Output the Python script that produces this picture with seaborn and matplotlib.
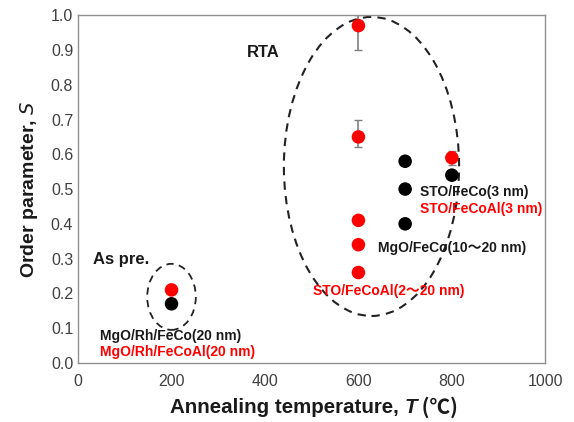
import matplotlib
matplotlib.use("Agg")
import matplotlib.pyplot as plt
import seaborn as sns
import pandas as pd
from matplotlib.patches import Ellipse
from matplotlib.ticker import MultipleLocator
from matplotlib.offsetbox import TextArea, HPacker, AnchoredOffsetbox

sns.set_style("white")
FAM = ['Liberation Sans', 'Noto Sans CJK JP', 'DejaVu Sans']
plt.rcParams['font.family'] = FAM

# data
red_T = [200, 600, 600, 600, 600, 600, 800]
red_S = [0.21, 0.97, 0.65, 0.41, 0.34, 0.26, 0.59]
red_err_lo = [0, 0.07, 0.03, 0, 0, 0, 0.02]
red_err_hi = [0, 0.03, 0.05, 0, 0, 0, 0.02]
black_T = [200, 700, 700, 700, 800]
black_S = [0.17, 0.58, 0.50, 0.40, 0.54]
x_ticks = [0, 200, 400, 600, 800, 1000]
y_ticks = [0.0, 0.1, 0.2, 0.3, 0.4, 0.5, 0.6, 0.7, 0.8, 0.9, 1.0]

df = pd.DataFrame({
    "T": red_T + black_T,
    "S": red_S + black_S,
    "grp": ["FeCoAl"] * len(red_T) + ["FeCo"] * len(black_T),
})

fig = plt.figure(figsize=(5.74, 4.22), dpi=100)
ax = fig.add_axes([0.136, 0.14, 0.814, 0.824])

# error bars
for t, s, lo, hi in zip(red_T, red_S, red_err_lo, red_err_hi):
    if lo or hi:
        ax.errorbar([t], [s], yerr=[[lo], [hi]], fmt='none', ecolor='#808080',
                    elinewidth=1.2, capsize=3, capthick=1.0, zorder=2)

sns.scatterplot(data=df, x="T", y="S", hue="grp",
                palette={"FeCoAl": "#ff0000", "FeCo": "#000000"},
                s=95, edgecolor='none', legend=False, ax=ax, zorder=3)

# ellipses
ax.add_patch(Ellipse((200, 0.19), 104, 0.19, fill=False, ls=(0, (4, 3)),
                     lw=1.3, ec='#222222', zorder=1))
ax.add_patch(Ellipse((628, 0.565), 375, 0.86, fill=False, ls=(0, (4, 3)),
                     lw=1.5, ec='#222222', zorder=1, clip_on=False))

ax.set_xlim(0, 1000)
ax.set_ylim(0, 1.0)
ax.set_xticks(x_ticks)
ax.set_yticks(y_ticks)
ax.set_yticklabels([f"{v:.1f}" for v in y_ticks])
ax.xaxis.set_minor_locator(MultipleLocator(100))
ax.yaxis.set_minor_locator(MultipleLocator(0.05))
ax.tick_params(axis='both', which='both', direction='in', color='#808080',
               labelsize=11.5, labelcolor='#404040')
ax.tick_params(which='major', length=4)
ax.tick_params(which='minor', length=4)
ax.tick_params(axis='x', pad=8)
for sp in ax.spines.values():
    sp.set_color('#909090')
    sp.set_linewidth(1.0)

ax.set_xlabel("")
# x label built from pieces so the ℃ glyph can fall back to a CJK font
lbl_kw = dict(fontsize=14.8, fontweight='bold', color='#1a1a1a', family=FAM)
parts = [
    TextArea("Annealing temperature, ", textprops=lbl_kw),
    TextArea("T", textprops=dict(lbl_kw, fontstyle='italic')),
    TextArea(" (℃)", textprops=dict(lbl_kw, family=['Noto Sans CJK JP', 'Liberation Sans'])),
]
box = HPacker(children=parts, align="baseline", pad=0, sep=0)
anch = AnchoredOffsetbox(loc='upper center', child=box, pad=0, frameon=False,
                         bbox_to_anchor=(0.505, -0.095), bbox_transform=ax.transAxes,
                         borderpad=0)
ax.add_artist(anch)

ax.set_ylabel("Order parameter, $\\bf{\\it{S}}$", fontsize=14,
              fontweight='bold', labelpad=8, color='#1a1a1a')

ax.text(362, 0.88, "RTA", fontsize=12, fontweight='bold', color='#1a1a1a')
ax.text(32, 0.285, "As pre.", fontsize=12, fontweight='bold', color='#1a1a1a')
ax.text(47, 0.065, "MgO/Rh/FeCo(20 nm)", fontsize=10, fontweight='bold', color='#1a1a1a')
ax.text(47, 0.02, "MgO/Rh/FeCoAl(20 nm)", fontsize=10, fontweight='bold', color='#ff0000')
ax.text(503, 0.195, "STO/FeCoAl(2～20 nm)", fontsize=10, fontweight='bold', color='#ff0000')
ax.text(642, 0.32, "MgO/FeCo(10～20 nm)", fontsize=10, fontweight='bold', color='#1a1a1a')
ax.text(731, 0.48, "STO/FeCo(3 nm)", fontsize=10, fontweight='bold', color='#1a1a1a')
ax.text(731, 0.43, "STO/FeCoAl(3 nm)", fontsize=10, fontweight='bold', color='#ff0000')

fig.savefig("out.png", dpi=100)
